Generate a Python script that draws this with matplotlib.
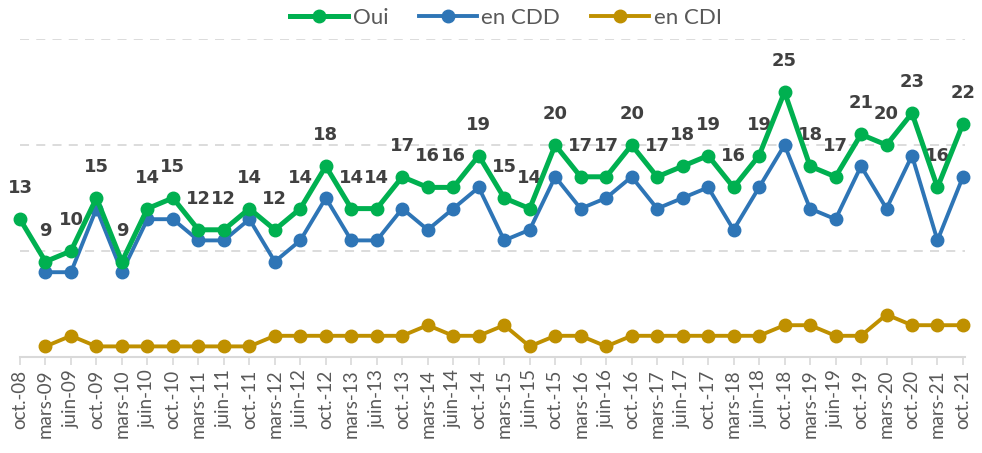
import numpy as np
import matplotlib
matplotlib.use("Agg")
import matplotlib.pyplot as plt

plt.rcParams['font.family'] = ['Lato', 'DejaVu Sans']

# Data
periods = ["oct.-08", "mars-09", "juin-09", "oct.-09", "mars-10", "juin-10", "oct.-10",
           "mars-11", "juin-11", "oct.-11", "mars-12", "juin-12", "oct.-12", "mars-13",
           "juin-13", "oct.-13", "mars-14", "juin-14", "oct.-14", "mars-15", "juin-15",
           "oct.-15", "mars-16", "juin-16", "oct.-16", "mars-17", "juin-17", "oct.-17",
           "mars-18", "juin-18", "oct.-18", "mars-19", "juin-19", "oct.-19", "mars-20",
           "oct.-20", "mars-21", "oct.-21"]

oui = [13, 9, 10, 15, 9, 14, 15, 12, 12, 14, 12, 14, 18, 14, 14, 17, 16, 16, 19, 15,
       14, 20, 17, 17, 20, 17, 18, 19, 16, 19, 25, 18, 17, 21, 20, 23, 16, 22]

en_cdd = [np.nan, 8, 8, 14, 8, 13, 13, 11, 11, 13, 9, 11, 15, 11, 11, 14, 12, 14, 16, 11,
          12, 17, 14, 15, 17, 14, 15, 16, 12, 16, 20, 14, 13, 18, 14, 19, 11, 17]

en_cdi = [np.nan, 1, 2, 1, 1, 1, 1, 1, 1, 1, 2, 2, 2, 2, 2, 2, 3, 2, 2, 3,
          1, 2, 2, 1, 2, 2, 2, 2, 2, 2, 3, 3, 2, 2, 4, 3, 3, 3]

c_oui = "#00B050"
c_cdd = "#2E75B6"
c_cdi = "#BF9000"

fig = plt.figure(figsize=(9.82, 4.53), dpi=100)
ax = fig.add_axes([20 / 982, 96 / 453, 945 / 982, 318 / 453])

x = np.arange(len(periods))

ax.plot(x, oui, color=c_oui, lw=3.6, marker="o", ms=9, label="Oui", zorder=4, clip_on=False)
ax.plot(x, en_cdd, color=c_cdd, lw=2.8, marker="o", ms=9, label="en CDD", zorder=3, clip_on=False)
ax.plot(x, en_cdi, color=c_cdi, lw=2.8, marker="o", ms=9, label="en CDI", zorder=3, clip_on=False)

# data labels on the "Oui" series only
for xi, v in zip(x, oui):
    ax.annotate(str(v), (xi, v), xytext=(0, 31), textcoords="offset pixels",
                ha="center", va="center", fontsize=13, fontweight="bold",
                color="#404040", family="DejaVu Sans")

ax.set_xlim(0, 37.08)
ax.set_ylim(0, 30)
ax.set_yticks([10, 20, 30])
ax.yaxis.grid(True, linestyle=(0, (5, 4)), color="#D9D9D9", lw=1.3)
ax.tick_params(axis="y", left=False, labelleft=False)

ax.set_xticks(x)
ax.set_xticklabels(periods, rotation=90, fontsize=13.5, color="#595959")
ax.tick_params(axis="x", length=6, width=1.2, color="#D9D9D9", pad=3)

for s in ["top", "right", "left"]:
    ax.spines[s].set_visible(False)
ax.spines["bottom"].set_color("#D9D9D9")
ax.spines["bottom"].set_linewidth(1.5)

ax.legend(loc="center", bbox_to_anchor=(506 / 982, 1 - 18 / 453), bbox_transform=fig.transFigure,
          ncol=3, frameon=False, fontsize=16, handlelength=2.6, handletextpad=0.2,
          columnspacing=1.4, labelcolor="#595959")

fig.savefig("out.png", dpi=100)
